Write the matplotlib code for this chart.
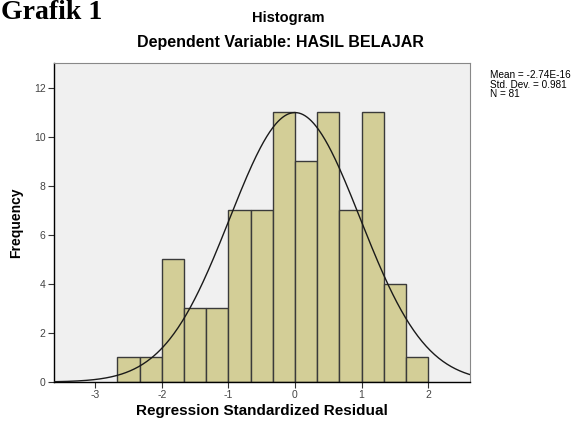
import numpy as np
import matplotlib
matplotlib.use("Agg")
import matplotlib.pyplot as plt

plt.rcParams["font.family"] = ["Liberation Sans", "DejaVu Sans"]
plt.rcParams["axes.unicode_minus"] = False

# Datos del histograma
bordes = np.linspace(-8 / 3, 2.0, 15)
frecuencias = [1, 1, 5, 3, 3, 7, 7, 11, 9, 11, 7, 11, 4, 1]
media = -2.74e-16
desv = 0.981
n = 81

x_ticks = [-3, -2, -1, 0, 1, 2]
y_ticks = [0, 2, 4, 6, 8, 10, 12]

fig = plt.figure(figsize=(5.78, 4.21), dpi=100)
ax = fig.add_axes([54 / 578, 1 - 382 / 421, (470 - 54) / 578, (382 - 63) / 421])
ax.set_facecolor("#F0F0F0")

anchos = np.diff(bordes)
ax.bar(bordes[:-1], frecuencias, width=anchos, align="edge",
       color="#D3CE97", edgecolor="#3a3a3a", linewidth=1.0, zorder=2)

# Curva normal
xs = np.linspace(-3.62, 2.63, 400)
ancho_bin = anchos[0]
ys = n * ancho_bin / (desv * np.sqrt(2 * np.pi)) * np.exp(-0.5 * ((xs - media) / desv) ** 2)
ax.plot(xs, ys, color="#1a1a1a", linewidth=1.0, zorder=3)

ax.set_xlim(-3.62, 2.63)
ax.set_ylim(0, 13)
ax.set_xticks(x_ticks)
ax.set_yticks(y_ticks)
ax.tick_params(labelsize=7.5, labelcolor="#444444", length=4, width=0.8, color="#333333", pad=2)

for lado in ["left", "bottom"]:
    ax.spines[lado].set_color("black")
    ax.spines[lado].set_linewidth(1.0)
for lado in ["top", "right"]:
    ax.spines[lado].set_color("#888888")
    ax.spines[lado].set_linewidth(0.8)

ax.set_xlabel("Regression Standardized Residual", fontsize=11, fontweight="bold", labelpad=3)
ax.set_ylabel("Frequency", fontsize=10, fontweight="bold", labelpad=8)

fig.text(288 / 578, 1 - 18 / 421, "Histogram", ha="center", va="center",
         fontsize=10.5, fontweight="bold")
fig.text(280 / 578, 1 - 43 / 421, "Dependent Variable: HASIL BELAJAR", ha="center", va="center",
         fontsize=11.5, fontweight="bold")
fig.text(0.002, 1.0, "Grafik 1", ha="left", va="top", fontsize=20, fontweight="bold",
         family="Liberation Serif")

fig.text(490 / 578, 1 - 70 / 421,
         "Mean = -2.74E-16\nStd. Dev. = 0.981\nN = 81",
         ha="left", va="top", fontsize=7.2, linespacing=0.95)

plt.savefig("out.png", dpi=100)
